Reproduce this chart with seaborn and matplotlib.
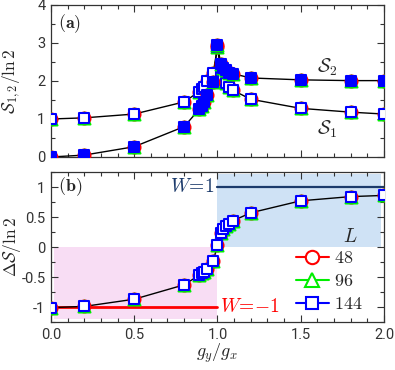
import numpy as np
import matplotlib
matplotlib.use("Agg")
import matplotlib.pyplot as plt
import seaborn as sns
from matplotlib.lines import Line2D
from matplotlib.ticker import MultipleLocator, FuncFormatter

# data
g_ratio = [0.0, 0.2, 0.5, 0.8, 0.89, 0.905, 0.92, 0.94, 0.975, 1.0,
           1.02, 1.035, 1.05, 1.07, 1.095, 1.2, 1.5, 1.8, 2.0]
S1 = [1.0, 1.03, 1.13, 1.45, 1.72, 1.78, 1.85, 2.0, 2.22, 2.9,
      2.22, 2.04, 1.94, 1.83, 1.75, 1.52, 1.28, 1.18, 1.13]
S2 = [0.0, 0.05, 0.27, 0.8, 1.25, 1.34, 1.44, 1.63, 1.98, 2.95,
      2.45, 2.34, 2.29, 2.22, 2.19, 2.08, 2.03, 2.01, 2.01]
dS = [-1.01, -0.99, -0.87, -0.63, -0.47, -0.44, -0.41, -0.37, -0.24, 0.04,
      0.23, 0.30, 0.35, 0.39, 0.44, 0.57, 0.77, 0.84, 0.86]
L_sizes = ["48", "96", "144"]
L_colors = ["#ff0000", "#00ee00", "#0000ff"]
L_markers = ["o", "^", "s"]
L_msize = [8.6, 8.6, 7.2]

sns.set_theme(style="ticks")
plt.rcParams["font.family"] = ["Roboto", "DejaVu Sans"]
plt.rcParams["mathtext.fontset"] = "cm"
plt.rcParams["axes.unicode_minus"] = False
plt.rcParams["xtick.direction"] = "in"
plt.rcParams["ytick.direction"] = "in"

fig = plt.figure(figsize=(3.95, 3.70), dpi=100)
ax1 = fig.add_axes([0.129, 0.5757, 0.843, 0.4108])
ax2 = fig.add_axes([0.129, 0.1297, 0.843, 0.4054])

# ---- panel (a)
for yy in [S1, S2]:
    sns.lineplot(x=g_ratio, y=yy, ax=ax1, color="black", lw=1.0, sort=False,
                 estimator=None, zorder=2)
for lab, c, m, ms in zip(L_sizes, L_colors, L_markers, L_msize):
    sns.scatterplot(x=g_ratio, y=S1, ax=ax1, marker=m, s=ms**2, color="white",
                    edgecolor=c, linewidth=1.5, zorder=3, legend=False)
for lab, c, m, ms in zip(L_sizes, L_colors, L_markers, L_msize):
    sns.scatterplot(x=g_ratio, y=S2, ax=ax1, marker=m, s=ms**2, color=c,
                    edgecolor=c, linewidth=1.5, zorder=3, legend=False)

ax1.set_xlim(0, 2)
ax1.set_ylim(0, 4)
ax1.set_ylabel(r"$\mathcal{S}_{1,2}/\ln 2$", fontsize=12.5)
ax1.yaxis.set_label_coords(-0.085, 0.5)
ax1.text(0.04, 3.5, r"$\mathbf{(a)}$", fontsize=13, va="center")
ax1.text(1.66, 2.36, r"$\mathcal{S}_2$", fontsize=14, va="center", ha="center")
ax1.text(1.66, 0.74, r"$\mathcal{S}_1$", fontsize=14, va="center", ha="center")
ax1.tick_params(labelbottom=False)

# ---- panel (b)
ax2.fill_between([0.02, 1.0], -1.2, 0, color="#f8ddf4", lw=0, zorder=0)
ax2.fill_between([1.0, 1.98], 0, 1.22, color="#cfe2f5", lw=0, zorder=0)
ax2.plot([0, 1.0], [-1, -1], color="#ff0000", lw=2, zorder=1)
ax2.plot([1.0, 2.0], [1, 1], color="#1b3a6b", lw=1.6, zorder=1)
ax2.text(0.985, 1.0, r"$W\!=\!1$", color="#1b3a6b", fontsize=14,
         ha="right", va="center")
ax2.text(1.015, -1.0, r"$W\!=\!{-}1$", color="#ff0000", fontsize=14,
         ha="left", va="center")
ax2.text(0.04, 1.0, r"$\mathbf{(b)}$", fontsize=13, va="center")

sns.lineplot(x=g_ratio, y=dS, ax=ax2, color="black", lw=1.0, sort=False,
             estimator=None, zorder=2)
for lab, c, m, ms in zip(L_sizes, L_colors, L_markers, L_msize):
    sns.scatterplot(x=g_ratio, y=dS, ax=ax2, marker=m, s=ms**2, color="white",
                    edgecolor=c, linewidth=1.5, zorder=3, legend=False)

ax2.set_xlim(0, 2)
ax2.set_ylim(-1.25, 1.25)
ax2.set_ylabel(r"$\Delta\mathcal{S}/\ln 2$", fontsize=12.5)
ax2.yaxis.set_label_coords(-0.085, 0.5)
ax2.set_xlabel(r"$g_y/g_x$", fontsize=13, labelpad=0)

handles = [Line2D([], [], color=c, marker=m, ms=ms + 1, mfc="white", mec=c,
                  mew=1.5, lw=1.5)
           for c, m, ms in zip(L_colors, L_markers, L_msize)]
ax2.legend(handles, ["$" + s + "$" for s in L_sizes],
           loc="lower right", bbox_to_anchor=(0.975, -0.025), frameon=False,
           fontsize=13, handlelength=1.85, handletextpad=0.3,
           labelspacing=0.28, borderpad=0.2)
ax2.text(1.80, 0.17, r"$L$", fontsize=14, ha="center", va="center")

fmt = FuncFormatter(lambda v, p: "%g" % v)
for ax in [ax1, ax2]:
    ax.xaxis.set_major_locator(MultipleLocator(0.5))
    ax.xaxis.set_minor_locator(MultipleLocator(0.1))
    ax.tick_params(which="both", top=True, right=True, labelsize=10.5,
                   color="#333333", width=0.8, labelcolor="#333333")
    ax.tick_params(which="major", length=5, pad=4)
    ax.tick_params(which="minor", length=3)
    for sp in ax.spines.values():
        sp.set_linewidth(0.9)
        sp.set_color("#333333")
        sp.set_visible(True)
ax1.yaxis.set_major_locator(MultipleLocator(1))
ax1.yaxis.set_minor_locator(MultipleLocator(0.5))
ax1.yaxis.set_major_formatter(fmt)
ax2.yaxis.set_major_locator(MultipleLocator(0.5))
ax2.yaxis.set_minor_locator(MultipleLocator(0.25))
ax2.yaxis.set_major_formatter(fmt)
ax2.xaxis.set_major_formatter(FuncFormatter(lambda v, p: "%.1f" % v))

fig.savefig("out.png", dpi=100)
